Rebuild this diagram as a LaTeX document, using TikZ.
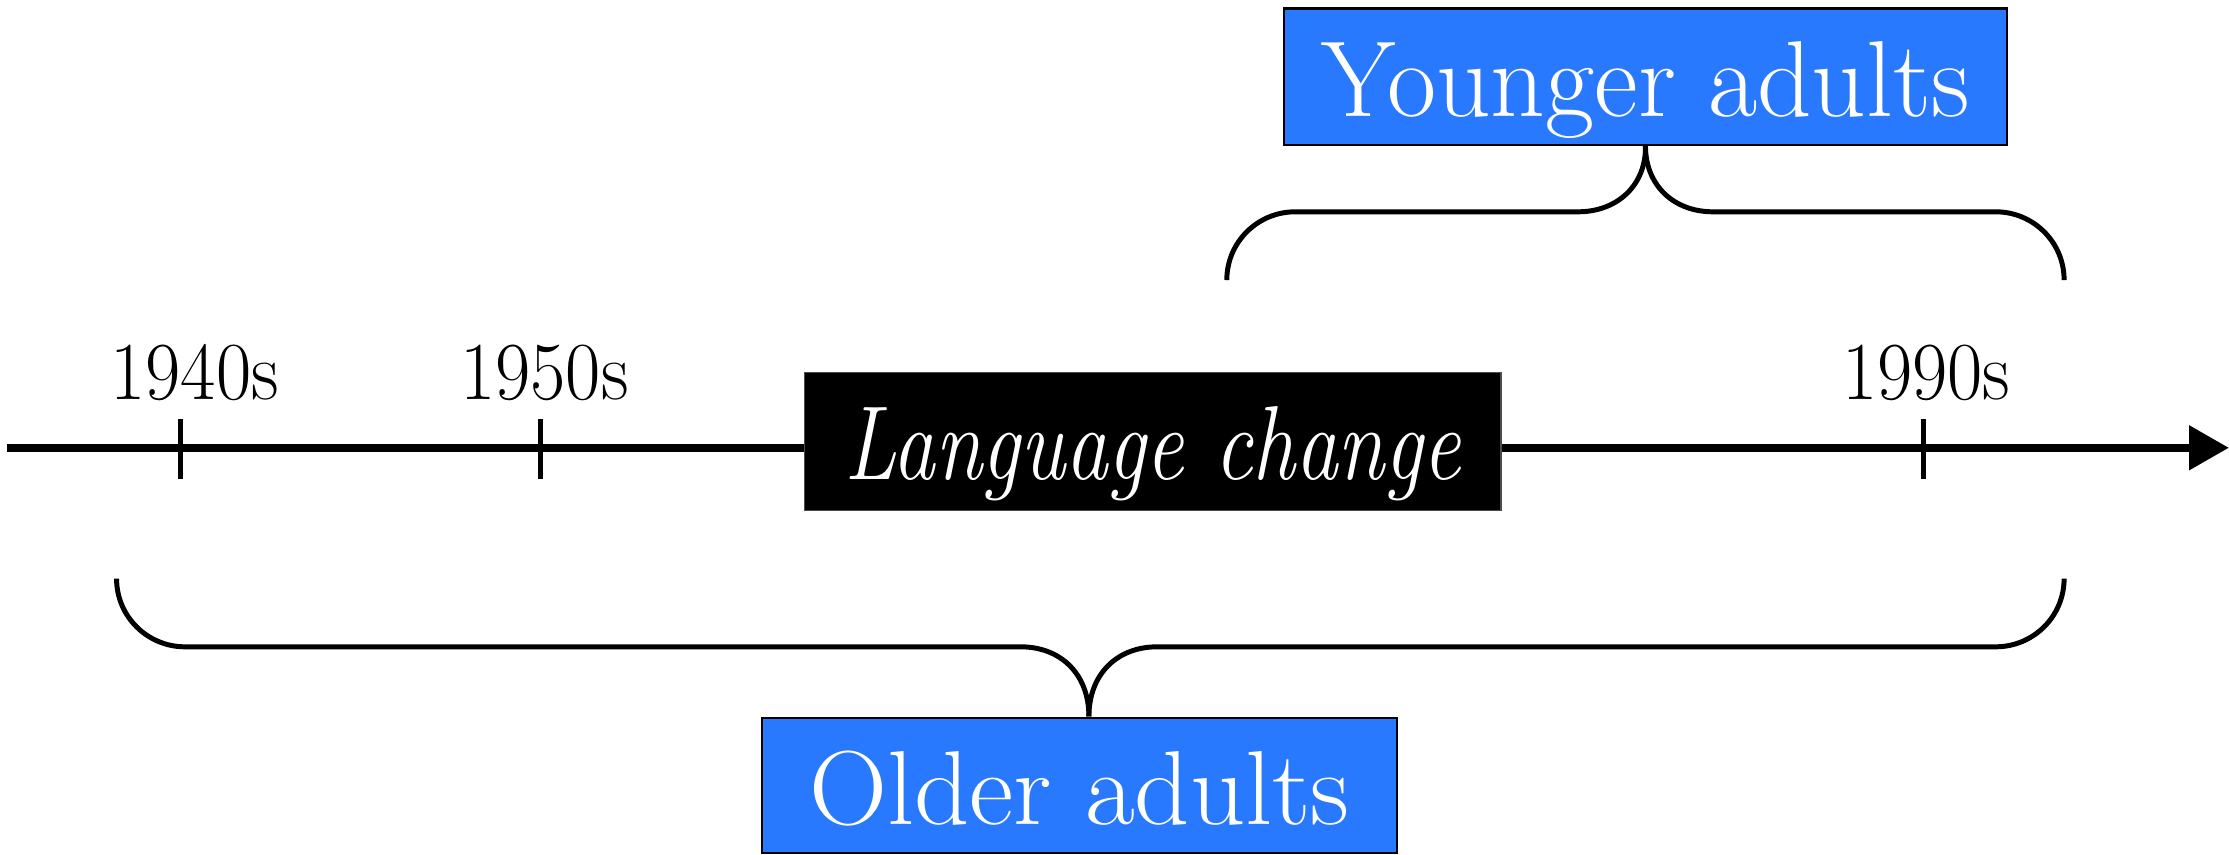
\documentclass[tikz,border=0pt]{standalone}
\usepackage{graphicx}
\usetikzlibrary{arrows.meta}
\definecolor{boxblue}{RGB}{41,121,255}
\newcommand{\sqz}[2]{\scalebox{#1}[1]{#2}}
\begin{document}
\begin{tikzpicture}[x=1pt,y=-1pt,
  bluebox/.style={draw=black, line width=1.5pt, fill=boxblue, text=white, inner sep=0pt, text depth=0pt},
  blackbox/.style={draw=black!70, line width=1pt, fill=black, text=white, inner sep=0pt, text depth=0pt},
  yearlabel/.style={anchor=base, inner sep=0pt, font=\fontsize{58}{60}\selectfont},
  tickmark/.style={line width=3.5pt},
  axisline/.style={line width=6pt, -{Triangle[length=28pt,width=30pt]}},
  bracestyle/.style={line width=3.5pt, line cap=butt}
]
\useasboundingbox (0,0) rectangle (1568,601);

% axis
\coordinate (axstart) at (5,315);
\coordinate (axend) at (1568,315);
\draw[axisline] (axstart) -- (axend);

% ticks
\coordinate (t1a) at (127,295); \coordinate (t1b) at (127,337);
\coordinate (t2a) at (380,295); \coordinate (t2b) at (380,337);
\coordinate (t3a) at (1353,295); \coordinate (t3b) at (1353,337);
\draw[tickmark] (t1a) -- (t1b);
\draw[tickmark] (t2a) -- (t2b);
\draw[tickmark] (t3a) -- (t3b);

% year labels
\node[yearlabel] (y1940) at (137,281) {\sqz{0.93}{1940s}};
\node[yearlabel] (y1950) at (383,281) {\sqz{0.93}{1950s}};
\node[yearlabel] (y1990) at (1355,281) {\sqz{0.93}{1990s}};

% language change box
\node[blackbox, minimum width=490pt, minimum height=97pt, text height=53pt,
      font=\fontsize{74}{80}\selectfont\itshape] (lang) at (811,310.5) {\sqz{0.81}{Language change}};

% younger adults
\node[bluebox, minimum width=509pt, minimum height=96pt, text height=56pt,
      font=\fontsize{76}{80}\selectfont] (young) at (1157.5,54) {\sqz{0.99}{Younger adults}};

% older adults
\node[bluebox, minimum width=447pt, minimum height=95pt, text height=55pt,
      font=\fontsize{74}{80}\selectfont] (old) at (759.5,552.5) {\sqz{1.03}{Older adults}};

% top brace
\coordinate (tbL) at (863,197);
\coordinate (tbR) at (1452,197);
\draw[bracestyle] (tbL) .. controls (863,170) and (885,149) .. (911,149)
  -- (1110,149) .. controls (1138,149) and (1158,130) .. (young.south);
\draw[bracestyle] (tbR) .. controls (1452,170) and (1430,149) .. (1404,149)
  -- (1205,149) .. controls (1177,149) and (1157.5,130) .. (young.south);

% bottom brace
\coordinate (bbL) at (82,407);
\coordinate (bbR) at (1452,407);
\coordinate (bbtip) at (766,504);
\draw[bracestyle] (bbL) .. controls (82,434) and (104,455) .. (130,455)
  -- (718,455) .. controls (746,455) and (766,474) .. (bbtip);
\draw[bracestyle] (bbR) .. controls (1452,434) and (1430,455) .. (1404,455)
  -- (814,455) .. controls (786,455) and (766,474) .. (bbtip);
\end{tikzpicture}
\end{document}
